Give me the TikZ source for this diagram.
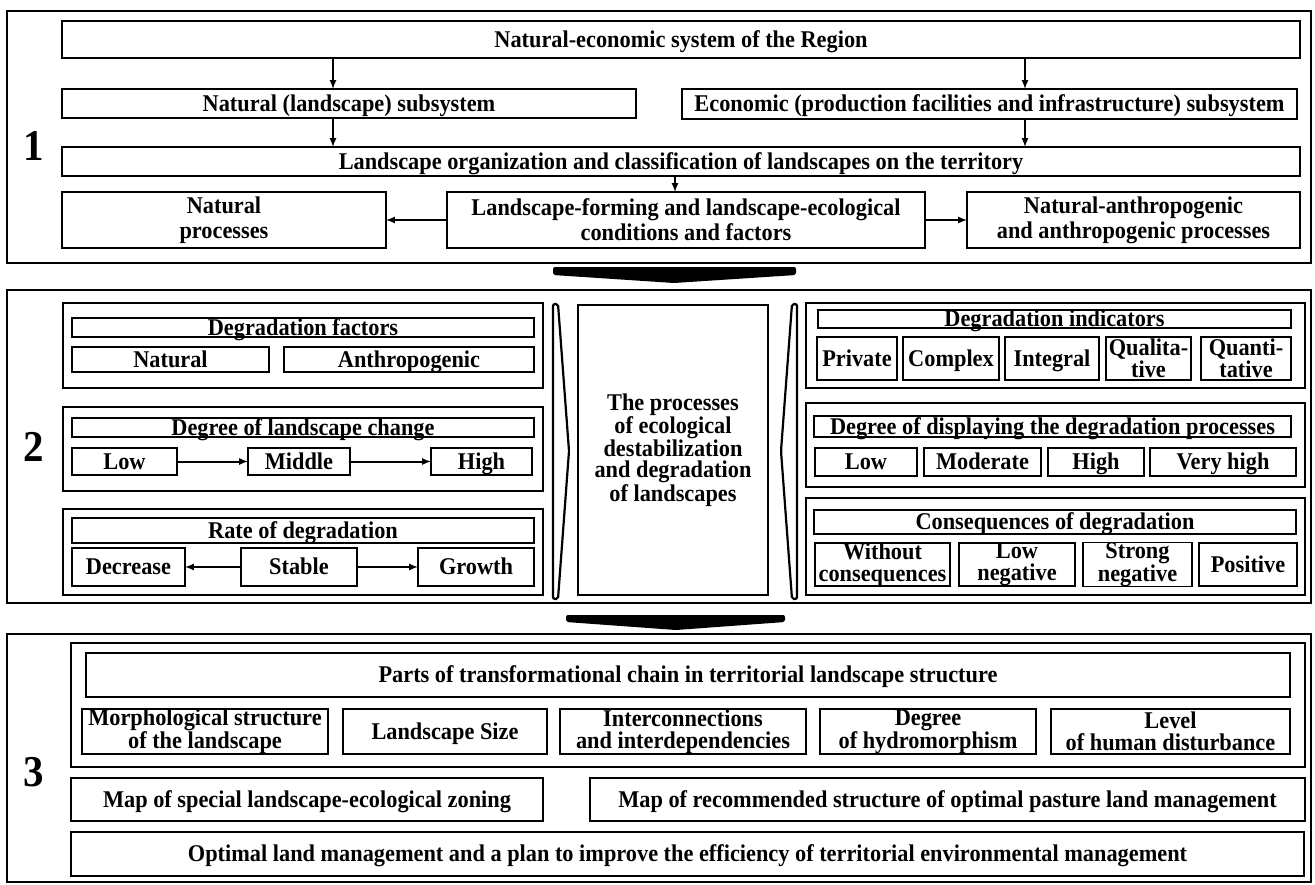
\documentclass[tikz,border=0pt]{standalone}
\usepackage{fontspec}
\setmainfont{Liberation Serif}[FakeStretch=0.93]
\usetikzlibrary{positioning, arrows}
% box from its corners: style, name, x1, y1, x2, y2, text
\newcommand{\bx}[7]{\node[#1, minimum width={(#5-#3)*1pt}, minimum height={(#6-#4)*1pt}] (#2) at ({(#3+#5)/2},{(#4+#6)/2}) {#7};}

\begin{document}
\begin{tikzpicture}[x=1pt, y=-1pt,
  thickbox/.style={draw, line width=2.6pt, inner sep=0pt, outer sep=0pt, align=center,
    text height=15.9pt, text depth=0pt, font=\bfseries\fontsize{24}{25}\selectfont},
  thinbox/.style={thickbox, line width=1.6pt},
  two/.style={text height=, text depth=, font=\bfseries\fontsize{24}{21.5}\selectfont},
  tight/.style={text height=, text depth=, font=\bfseries\fontsize{24}{21.5}\selectfont},
  multi/.style={text height=, text depth=},
  panel/.style={draw, line width=2.6pt, inner sep=0pt, outer sep=0pt},
  arr/.style={-latex, line width=2pt},
  num/.style={font=\bfseries\fontsize{44}{44}\selectfont}]
\useasboundingbox (0,0) rectangle (1315,884);

% block 1
\bx{panel}{p1}{7}{11}{1311}{263}{}
\node[num] (n1) at (34,146) {1};
\bx{thickbox}{nes}{62}{21}{1300}{58}{Natural-economic system of the Region}
\bx{thickbox}{nat}{62}{89}{636}{118}{Natural (landscape) subsystem}
\bx{thickbox}{eco}{682}{89}{1297}{119}{Economic (production facilities and infrastructure) subsystem}
\bx{thinbox}{org}{62}{147}{1300}{176}{Landscape organization and classification of landscapes on the territory}
\bx{thinbox, multi}{natp}{62}{192}{386}{248}{Natural\\processes}
\bx{thinbox, multi}{form}{447}{192}{925}{248}{Landscape-forming and landscape-ecological\\conditions and factors}
\bx{thinbox, multi}{anthp}{967}{192}{1300}{248}{Natural-anthropogenic\\and anthropogenic processes}
\coordinate (c1) at (333,0);
\coordinate (c2) at (1025,0);
\coordinate (c3) at (675,0);
\draw[arr] (nes.south -| c1) -- (nat.north -| c1);
\draw[arr] (nat.south -| c1) -- (org.north -| c1);
\draw[arr] (nes.south -| c2) -- (eco.north -| c2);
\draw[arr] (eco.south -| c2) -- (org.north -| c2);
\draw[arr] (org.south -| c3) -- (form.north -| c3);
\draw[arr] (form.west) -- (natp.east);
\draw[arr] (form.east) -- (anthp.west);

\fill[rounded corners=2pt] (553,267) -- (796,267) -- (796,275) -- (674,283) -- (553,275) -- cycle;

% block 2
\bx{panel}{p2}{7}{290}{1311}{603}{}
\node[num] (n2) at (34,447) {2};
\bx{thickbox}{gA}{63}{303}{543}{388}{}
\bx{thinbox}{tA}{72}{318}{534}{337}{Degradation factors}
\bx{thinbox}{fnat}{72}{347}{269}{372}{Natural}
\bx{thinbox}{fant}{284}{347}{534}{372}{Anthropogenic}
\bx{thickbox}{gB}{63}{407}{543}{491}{}
\bx{thinbox}{tB}{72}{418}{534}{437}{Degree of landscape change}
\bx{thinbox}{clow}{72}{448}{177}{475}{Low}
\bx{thinbox}{cmid}{248}{448}{350}{475}{Middle}
\bx{thinbox}{chigh}{431}{448}{532}{475}{High}
\draw[arr] (clow) -- (cmid);
\draw[arr] (cmid) -- (chigh);
\bx{thickbox}{gC}{63}{509}{543}{595}{}
\bx{thinbox}{tC}{72}{518}{534}{543}{Rate of degradation}
\bx{thinbox}{rdec}{72}{548}{185}{586}{Decrease}
\bx{thinbox}{rsta}{241}{548}{357}{586}{Stable}
\bx{thinbox}{rgro}{418}{548}{534}{586}{Growth}
\draw[arr] (rsta) -- (rdec);
\draw[arr] (rsta) -- (rgro);

\bx{thickbox, two}{proc}{578}{305}{768}{595}{The processes\\of ecological\\destabilization\\and degradation\\of landscapes}
\draw[line width=2.2pt, rounded corners=2pt] (553,304) -- (553,599) -- (558,599) -- (569,451) -- (558,304) -- cycle;
\draw[line width=2.2pt, rounded corners=2pt] (797,304) -- (797,599) -- (792,599) -- (781,451) -- (792,304) -- cycle;

\bx{thickbox}{gD}{806}{303}{1305}{388}{}
\bx{thinbox}{tD}{818}{310}{1291}{328}{Degradation indicators}
\bx{thinbox}{ipri}{817}{337}{897}{380}{Private}
\bx{thinbox}{icom}{903}{337}{999}{380}{Complex}
\bx{thinbox}{iint}{1005}{337}{1099}{380}{Integral}
\bx{thinbox, two}{iqual}{1106}{337}{1191}{380}{Qualita-\\tive}
\bx{thinbox, two}{iquan}{1201}{337}{1291}{380}{Quanti-\\tative}
\bx{thickbox}{gE}{806}{403}{1305}{487}{}
\bx{thinbox}{tE}{814}{416}{1291}{437}{Degree of displaying the degradation processes}
\bx{thinbox}{dlow}{815}{448}{917}{476}{Low}
\bx{thinbox}{dmod}{924}{448}{1041}{476}{Moderate}
\bx{thinbox}{dhigh}{1048}{448}{1144}{476}{High}
\bx{thinbox}{dvh}{1150}{448}{1296}{476}{Very high}
\bx{thickbox}{gF}{806}{498}{1305}{595}{}
\bx{thinbox}{tF}{814}{510}{1296}{534}{Consequences of degradation}
\bx{thinbox, two}{kwo}{815}{543}{950}{586}{Without\\consequences}
\bx{thinbox, two}{klow}{959}{543}{1075}{586}{Low\\negative}
\bx{thinbox, two}{kstr}{1083}{543}{1192}{586}{Strong\\negative}
\bx{thinbox}{kpos}{1199}{543}{1297}{586}{Positive}

\fill[rounded corners=2pt] (566,615) -- (785,615) -- (785,622) -- (676,630) -- (566,622) -- cycle;

% block 3
\bx{panel}{p3}{7}{634}{1311}{882}{}
\node[num] (n3) at (34,772) {3};
\bx{thickbox}{gG}{71}{643}{1305}{767}{}
\bx{thickbox}{tG}{86}{653}{1290}{697}{Parts of transformational chain in territorial landscape structure}
\bx{thickbox, tight}{smor}{82}{709}{328}{754}{Morphological structure\\of the landscape}
\bx{thickbox}{ssiz}{343}{709}{547}{754}{Landscape Size}
\bx{thickbox, tight}{sint}{560}{709}{806}{754}{Interconnections\\and interdependencies}
\bx{thickbox, tight}{shyd}{820}{709}{1036}{754}{Degree\\of hydromorphism}
\bx{thickbox, tight}{shum}{1051}{709}{1290}{754}{Level\\of human disturbance}
\bx{thickbox}{map1}{71}{778}{543}{821}{Map of special landscape-ecological zoning}
\bx{thickbox}{map2}{590}{778}{1305}{821}{Map of recommended structure of optimal pasture land management}
\bx{thickbox}{opt}{71}{832}{1304}{876}{Optimal land management and a plan to improve the efficiency of territorial environmental management}
\end{tikzpicture}
\end{document}
